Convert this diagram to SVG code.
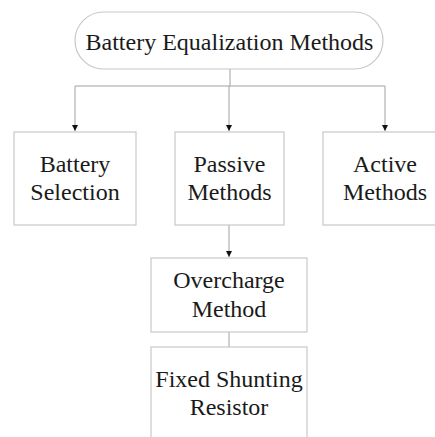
<svg xmlns="http://www.w3.org/2000/svg" width="435" height="437" viewBox="0 0 435 437">
<style>
.box{fill:#fff;stroke:#c8c8c8;stroke-width:1.2}
.lbl{font-family:"Liberation Serif","Times New Roman",serif;font-size:24px;fill:#1a1a1a;text-anchor:middle}
.con{fill:none;stroke:#a0a0a0;stroke-width:1}
</style>
<defs>
<marker id="arr" viewBox="0 0 6 6" refX="6" refY="3" markerWidth="6" markerHeight="6" markerUnits="userSpaceOnUse" orient="auto">
<path d="M0,0 L6,3 L0,6 Z" fill="#111"/>
</marker>
</defs>
<rect width="435" height="437" fill="#fff"/>
<g id="connectors">
<path class="con" d="M230,69 V86"/>
<path class="con" d="M75,86 H385"/>
<path class="con" d="M75,86 V131" marker-end="url(#arr)"/>
<path class="con" d="M229,86 V131" marker-end="url(#arr)"/>
<path class="con" d="M385,86 V131" marker-end="url(#arr)"/>
<path class="con" d="M229,225 V257" marker-end="url(#arr)"/>
<path class="con" d="M229,332 V347"/>
</g>
<g id="root">
<rect class="box" x="75" y="12" width="308" height="57" rx="28.5"/>
<text class="lbl" x="229.5" y="50">Battery Equalization Methods</text>
</g>
<g id="battery-selection">
<rect class="box" x="14" y="132" width="122" height="93"/>
<text class="lbl" x="75" y="172">Battery</text>
<text class="lbl" x="75" y="200">Selection</text>
</g>
<g id="passive-methods">
<rect class="box" x="175" y="132" width="109" height="93"/>
<text class="lbl" x="229.5" y="172">Passive</text>
<text class="lbl" x="229.5" y="200">Methods</text>
</g>
<g id="active-methods">
<rect class="box" x="323" y="132" width="120" height="93"/>
<text class="lbl" x="385" y="172">Active</text>
<text class="lbl" x="385" y="200">Methods</text>
</g>
<g id="overcharge-method">
<rect class="box" x="151" y="258" width="156" height="74"/>
<text class="lbl" x="229" y="288">Overcharge</text>
<text class="lbl" x="229" y="317">Method</text>
</g>
<g id="fixed-shunting-resistor">
<rect class="box" x="151" y="347" width="156" height="100"/>
<text class="lbl" x="229" y="387">Fixed Shunting</text>
<text class="lbl" x="229" y="415">Resistor</text>
</g>
</svg>
